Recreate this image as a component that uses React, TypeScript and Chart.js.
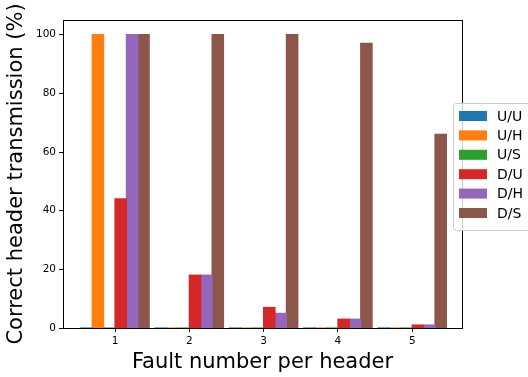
import React, { useEffect, useRef } from "react";
import { Chart, registerables } from "chart.js";

Chart.register(...registerables);

const categories = [1, 2, 3, 4, 5];
const seriesNames = ["U/U", "U/H", "U/S", "D/U", "D/H", "D/S"];
const seriesColors = ["#1f77b4", "#ff7f0e", "#2ca02c", "#d62728", "#9467bd", "#8c564b"];
const valsUU = [0, 0, 0, 0, 0];
const valsUH = [100, 0, 0, 0, 0];
const valsUS = [0, 0, 0, 0, 0];
const valsDU = [44, 18, 7, 3, 1];
const valsDH = [100, 18, 5, 3, 1];
const valsDS = [100, 100, 100, 97, 66];
const seriesValues = [valsUU, valsUH, valsUS, valsDU, valsDH, valsDS];
const yTicks = [0, 20, 40, 60, 80, 100];

const FONT = "'DejaVu Sans', sans-serif";

const framePlugin = {
  id: "frame",
  afterDraw(chart: any) {
    const { ctx, chartArea } = chart;
    ctx.save();
    ctx.strokeStyle = "#000";
    ctx.lineWidth = 1;
    ctx.strokeRect(
      Math.round(chartArea.left) + 0.5,
      Math.round(chartArea.top) + 0.5,
      Math.round(chartArea.right - chartArea.left),
      Math.round(chartArea.bottom - chartArea.top)
    );
    // legend
    const lx = 453.5;
    const ly = 103.5;
    const lw = 90;
    const lh = 127;
    ctx.beginPath();
    const r = 3;
    ctx.moveTo(lx + r, ly);
    ctx.lineTo(lx + lw - r, ly);
    ctx.arcTo(lx + lw, ly, lx + lw, ly + r, r);
    ctx.lineTo(lx + lw, ly + lh - r);
    ctx.arcTo(lx + lw, ly + lh, lx + lw - r, ly + lh, r);
    ctx.lineTo(lx + r, ly + lh);
    ctx.arcTo(lx, ly + lh, lx, ly + lh - r, r);
    ctx.lineTo(lx, ly + r);
    ctx.arcTo(lx, ly, lx + r, ly, r);
    ctx.closePath();
    ctx.fillStyle = "rgba(255,255,255,0.8)";
    ctx.fill();
    ctx.strokeStyle = "#cccccc";
    ctx.stroke();
    ctx.font = `14px ${FONT}`;
    ctx.textBaseline = "middle";
    ctx.textAlign = "left";
    chart.data.datasets.forEach((ds: any, i: number) => {
      const cy = 116 + i * 19.4;
      ctx.fillStyle = ds.backgroundColor;
      ctx.fillRect(459, cy - 5, 28, 10);
      ctx.fillStyle = "#000";
      ctx.fillText(ds.label, 497, cy + 1);
    });
    ctx.restore();
  },
};

export default function App() {
  const ref = useRef<HTMLCanvasElement | null>(null);
  useEffect(() => {
    if (!ref.current) return;
    const chart = new Chart(ref.current, {
      type: "bar",
      data: {
        datasets: seriesNames.map((name, i) => ({
          label: name,
          data: categories.map((c, j) => ({ x: c, y: seriesValues[i][j] })),
          backgroundColor: seriesColors[i],
          borderWidth: 0,
          inflateAmount: 0.6,
          categoryPercentage: 0.92,
          barPercentage: 1,
        })),
      },
      options: {
        animation: false,
        responsive: false,
        devicePixelRatio: 1,
        layout: { padding: { top: 20, right: 66, left: 0, bottom: 0 } },
        plugins: { legend: { display: false }, tooltip: { enabled: false } },
        scales: {
          x: {
            type: "linear",
            offset: false,
            min: 0.3,
            max: 5.67,
            afterBuildTicks: (s: any) => {
              s.ticks = categories.map((v) => ({ value: v }));
            },
            afterFit: (s: any) => {
              s.height = 49;
            },
            grid: {
              offset: false,
              drawOnChartArea: false,
              drawTicks: true,
              tickLength: 4,
              color: "#000",
            },
            border: { display: false },
            ticks: {
              color: "#000",
              padding: 3,
              font: { family: FONT, size: 10.5 },
              callback: (v: any) => String(v),
            },
            title: {
              display: true,
              text: "Fault number per header",
              color: "#000",
              font: { family: FONT, size: 21 },
              padding: { top: 0, bottom: 2 },
            },
          },
          y: {
            type: "linear",
            min: 0,
            max: 105,
            afterBuildTicks: (s: any) => {
              s.ticks = yTicks.map((v) => ({ value: v }));
            },
            afterFit: (s: any) => {
              s.width = 63;
            },
            grid: {
              drawOnChartArea: false,
              drawTicks: true,
              tickLength: 4,
              color: "#000",
            },
            border: { display: false },
            ticks: {
              color: "#000",
              padding: 3,
              font: { family: FONT, size: 10.5 },
            },
            title: {
              display: true,
              text: "Correct header transmission (%)",
              color: "#000",
              font: { family: FONT, size: 21 },
              padding: { top: 4, bottom: 0 },
            },
          },
        },
      },
      plugins: [framePlugin],
    } as any);
    return () => chart.destroy();
  }, []);
  return (
    <div style={{ position: "fixed", left: 0, top: 0, width: 528, height: 377, background: "#fff" }}>
      <canvas ref={ref} width={528} height={377} />
    </div>
  );
}
